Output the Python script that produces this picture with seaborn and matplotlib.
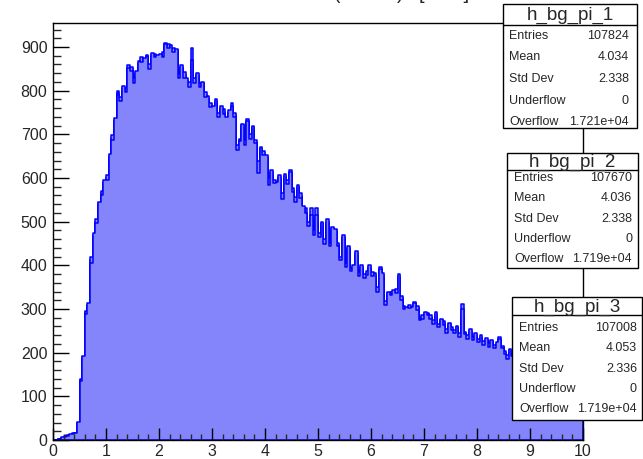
import numpy as np
import pandas as pd
import matplotlib
matplotlib.use("Agg")
import matplotlib.pyplot as plt
from matplotlib.patches import Rectangle
from matplotlib.ticker import MultipleLocator
import seaborn as sns

# histogram binning: 200 bins from 0 to 10
x_lo, x_hi, n_bins = 0.0, 10.0, 200

# bin contents (bins of 0.05, starting at 0.00)
h_bg_pi_1 = [
    0, 0, 2, 5, 8, 10, 12, 14, 15, 40,
    137, 190, 292, 310, 412, 470, 500, 542, 565, 591,
    600, 650, 692, 733, 800, 780, 805, 800, 858, 850,
    824, 840, 863, 870, 870, 882, 854, 882, 880, 878,
    880, 883, 909, 903, 900, 893, 893, 832, 855, 836,
    824, 813, 897, 824, 836, 813, 817, 790, 783, 767,
    760, 777, 744, 760, 752, 735, 752, 772, 744, 669,
    687, 721, 680, 735, 694, 717, 683, 607, 669, 657,
    649, 577, 614, 591, 588, 603, 557, 605, 591, 618,
    572, 550, 579, 559, 530, 531, 485, 531, 466, 531,
    469, 497, 454, 500, 447, 485, 481, 447, 408, 466,
    399, 440, 389, 397, 428, 378, 397, 374, 382, 397,
    380, 378, 332, 397, 378, 305, 336, 336, 340, 340,
    376, 325, 302, 302, 305, 302, 317, 302, 271, 282,
    290, 291, 282, 270, 288, 262, 275, 268, 250, 265,
    255, 248, 258, 240, 312, 245, 236, 250, 232, 240,
    228, 236, 222, 230, 218, 226, 214, 220, 236, 213,
    200, 190, 205, 195, 190, 185, 195, 178, 186, 175,
    182, 170, 176, 168, 172, 160, 166, 158, 162, 150,
    156, 148, 152, 142, 146, 138, 142, 134, 136, 130,
]

h_bg_pi_2 = [
    0, 0, 3, 4, 9, 11, 11, 15, 16, 38,
    140, 185, 295, 306, 418, 465, 505, 538, 570, 586,
    606, 645, 698, 728, 795, 786, 800, 806, 850, 855,
    830, 836, 858, 876, 866, 877, 860, 878, 885, 872,
    875, 889, 902, 908, 895, 897, 888, 838, 850, 842,
    818, 820, 860, 830, 830, 818, 812, 796, 778, 772,
    755, 770, 750, 755, 758, 730, 748, 760, 750, 675,
    690, 715, 686, 728, 700, 712, 688, 640, 663, 662,
    644, 600, 608, 596, 582, 598, 565, 598, 596, 610,
    578, 556, 572, 565, 524, 510, 500, 505, 480, 500,
    475, 490, 460, 495, 452, 480, 476, 452, 420, 460,
    405, 434, 395, 392, 422, 385, 392, 380, 386, 392,
    385, 372, 350, 390, 372, 318, 330, 340, 335, 346,
    370, 330, 306, 298, 310, 298, 312, 306, 276, 286,
    285, 288, 286, 274, 282, 266, 270, 272, 254, 260,
    258, 252, 254, 244, 280, 248, 240, 246, 236, 236,
    232, 232, 226, 226, 222, 222, 218, 216, 230, 216,
    204, 194, 200, 198, 186, 188, 190, 182, 182, 178,
    178, 172, 172, 170, 168, 163, 162, 160, 158, 153,
    152, 150, 148, 145, 142, 140, 138, 136, 133, 131,
]

h_bg_pi_3 = [
    0, 1, 2, 6, 7, 10, 13, 13, 15, 42,
    134, 193, 288, 314, 406, 474, 496, 546, 560, 595,
    596, 655, 686, 738, 790, 776, 810, 796, 852, 846,
    818, 845, 868, 866, 874, 880, 850, 886, 876, 882,
    884, 878, 906, 898, 904, 889, 896, 828, 858, 830,
    828, 808, 870, 818, 840, 808, 820, 786, 788, 762,
    764, 782, 740, 764, 746, 740, 756, 766, 740, 665,
    684, 724, 676, 730, 690, 720, 680, 612, 672, 652,
    652, 584, 618, 588, 592, 606, 552, 610, 586, 614,
    568, 546, 584, 554, 536, 520, 490, 515, 470, 515,
    465, 500, 450, 505, 444, 488, 484, 444, 412, 470,
    396, 444, 386, 400, 432, 375, 400, 370, 378, 400,
    376, 382, 340, 392, 382, 310, 340, 332, 344, 336,
    380, 320, 300, 305, 302, 305, 314, 298, 274, 278,
    294, 286, 278, 266, 292, 258, 278, 264, 246, 268,
    252, 244, 262, 236, 300, 242, 232, 254, 228, 244,
    224, 240, 218, 234, 214, 230, 210, 224, 232, 210,
    198, 186, 208, 192, 194, 182, 198, 174, 188, 172,
    185, 168, 178, 165, 174, 158, 168, 155, 164, 148,
    158, 146, 154, 140, 148, 136, 144, 132, 138, 128,
]

hist_names = ["h_bg_pi_1", "h_bg_pi_2", "h_bg_pi_3"]
stat_labels = ["Entries", "Mean", "Std Dev", "Underflow", "Overflow"]
stat_values = [
    ["107824", "4.034", "2.338", "0", "1.721e+04"],
    ["107670", "4.036", "2.338", "0", "1.719e+04"],
    ["107008", "4.053", "2.336", "0", "1.719e+04"],
]
# the title is cut off by the top of the canvas: only its lowest pixels show
title_main = "E (kinetic)"
title_unit = "[GeV]"

W, H = 643, 459
edges = np.linspace(x_lo, x_hi, n_bins + 1)
centers = 0.5 * (edges[:-1] + edges[1:])

sns.set_style("ticks")
plt.rcParams["font.family"] = ["Liberation Sans", "DejaVu Sans"]

fig = plt.figure(figsize=(W / 100, H / 100), dpi=100)
ax = fig.add_axes([53 / W, 1 - 440 / H, (583 - 53) / W, (440 - 23) / H])

for name, vals in zip(hist_names, [h_bg_pi_1, h_bg_pi_2, h_bg_pi_3]):
    df = pd.DataFrame({"x": centers, "w": vals})
    sns.histplot(data=df, x="x", weights="w", bins=n_bins, binrange=(x_lo, x_hi),
                 element="step", fill=True, facecolor="#8585fb",
                 edgecolor="#0000ff", linewidth=1.1, alpha=1, ax=ax)

ax.set_xlim(0, 10)
ax.set_ylim(0, 955)
ax.set_xlabel("")
ax.set_ylabel("")
ax.set_axisbelow(False)
ax.xaxis.set_major_locator(MultipleLocator(1))
ax.xaxis.set_minor_locator(MultipleLocator(0.2))
ax.yaxis.set_major_locator(MultipleLocator(100))
ax.yaxis.set_minor_locator(MultipleLocator(20))
ax.tick_params(axis="x", which="major", direction="in", length=8.6, width=1,
               labelsize=11.5, pad=3, color="black")
ax.tick_params(axis="x", which="minor", direction="in", length=4.6, width=1)
ax.tick_params(axis="y", which="major", direction="in", length=11.3, width=1,
               labelsize=11.5, pad=4, color="black")
ax.tick_params(axis="y", which="minor", direction="in", length=5.8, width=1)
for s in ax.spines.values():
    s.set_linewidth(1.0)
    s.set_color("black")
    s.set_visible(True)


def fx(x):
    return x / W


def fy(y):
    return 1 - y / H


# title, with the baseline just above the top edge
fig.text(fx(404), fy(-1.2), title_main, ha="right", va="baseline", fontsize=14.4)
fig.text(fx(419), fy(-1.2), title_unit, ha="left", va="baseline", fontsize=14.4)

# stat boxes: left, right, top, separator, bottom, first row, row step, text x
boxes = [
    (503, 637, 4, 25, 128, 36, 21.5, 509, 629),
    (507, 638, 153, 170, 268, 178, 20.3, 514, 632),
    (512, 642, 297, 315, 420, 328, 20.3, 519, 637),
]
for name, vals, (l, r, t, sep, b, row0, step, lx, rx) in zip(hist_names, stat_values, boxes):
    fig.add_artist(Rectangle((fx(l), fy(b)), fx(r - l), (b - t) / H,
                             transform=fig.transFigure, facecolor="white",
                             edgecolor="black", linewidth=1, zorder=5))
    fig.add_artist(plt.Line2D([fx(l), fx(r)], [fy(sep), fy(sep)],
                              transform=fig.transFigure, color="black",
                              linewidth=1, zorder=6))
    fig.text(fx((l + r) / 2), fy((t + sep) / 2 + 1), name, ha="center",
             va="center", fontsize=13.5, zorder=7)
    for i, (lab, v) in enumerate(zip(stat_labels, vals)):
        yy = fy(row0 + i * step)
        fig.text(fx(lx), yy, lab, ha="left", va="center", fontsize=9, zorder=7)
        fig.text(fx(rx), yy, v, ha="right", va="center", fontsize=9, zorder=7)

fig.savefig("out.png", dpi=100, facecolor="white")
